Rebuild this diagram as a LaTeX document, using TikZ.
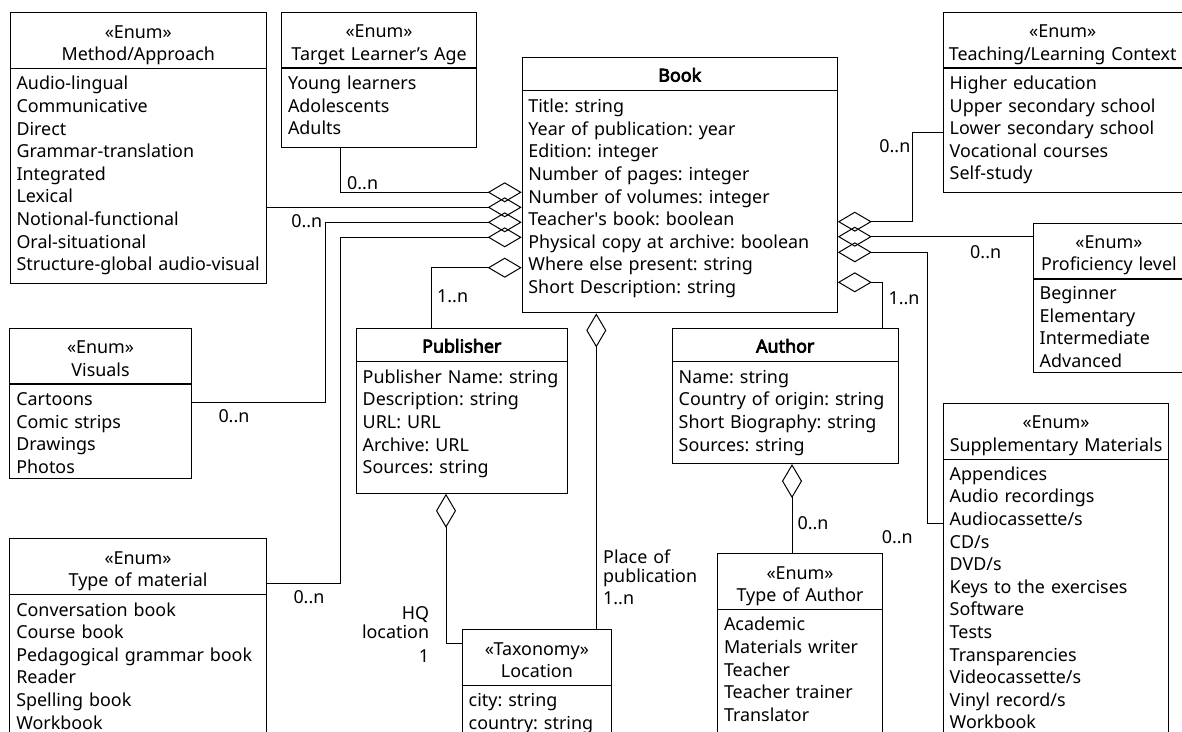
\documentclass[tikz,border=0pt]{standalone}
\usepackage{fontspec}
\setmainfont{Noto Sans}[AutoFakeBold=4]
\usetikzlibrary{arrows.meta, positioning, calc}
\newcommand{\umlfont}{\fontsize{17.9}{22.6}\selectfont}
\newcommand{\lblfont}{\fontsize{17.9}{19.4}\selectfont}
\frenchspacing
\tikzset{
  box/.style  ={draw, line width=1.1pt, anchor=north west, inner sep=0pt},
  enum/.style ={box, path picture={\draw[line width=1.1pt]
                ([yshift=-55.7pt]path picture bounding box.north west) --
                ([yshift=-55.7pt]path picture bounding box.north east);}},
  cls/.style  ={box, path picture={\draw[line width=1.1pt]
                ([yshift=-33pt]path picture bounding box.north west) --
                ([yshift=-33pt]path picture bounding box.north east);}},
  head/.style ={font=\umlfont, inner sep=0pt, anchor=base, text width=280pt, align=center},
  items/.style={font=\umlfont, inner sep=0pt, anchor=base west, text width=320pt, align=left},
  lbl/.style  ={font=\lblfont, inner sep=0pt},
  agg/.style  ={-{Diamond[open, length=34pt, width=20pt]}, line width=1pt}
}

\begin{document}
\begin{tikzpicture}[x=1pt, y=-1pt]
    \useasboundingbox (0,0) rectangle (1182,731);
    \fill[white] (0,0) rectangle (1182,731);
    \clip (0,0) rectangle (1182,731);

    % left column
    \node[enum, minimum width=256.5, minimum height=271] (meth) at (9.5,12) {};
    \node[head] at ([shift={(0,26)}]meth.north) {«Enum»\\Method/Approach};
    \node[items] at ([shift={(6.8,77.8)}]meth.north west) {Audio-lingual\\Communicative\\Direct\\Grammar-translation\\Integrated\\Lexical\\Notional-functional\\Oral-situational\\Structure-global audio-visual};

    \node[enum, minimum width=181.4, minimum height=150.6] (vis) at (9.3,327.7) {};
    \node[head] at ([shift={(0,26)}]vis.north) {«Enum»\\Visuals};
    \node[items] at ([shift={(6.8,77.8)}]vis.north west) {Cartoons\\Comic strips\\Drawings\\Photos};

    \node[enum, minimum width=256.4, minimum height=300] (tom) at (9.3,538.3) {};
    \node[head] at ([shift={(0,26)}]tom.north) {«Enum»\\Type of material};
    \node[items] at ([shift={(6.8,77.8)}]tom.north west) {Conversation book\\Course book\\Pedagogical grammar book\\Reader\\Spelling book\\Workbook};

    % middle
    \node[enum, minimum width=195, minimum height=135] (tla) at (281,11.7) {};
    \node[head] at ([shift={(0,26)}]tla.north) {«Enum»\\Target Learner’s Age};
    \node[items] at ([shift={(6.8,77.8)}]tla.north west) {Young learners\\Adolescents\\Adults};

    \node[cls, minimum width=315, minimum height=255] (book) at (521.7,57.3) {};
    \node[head] at ([shift={(0,24.3)}]book.north) {\textbf{Book}};
    \node[items] at ([shift={(6.5,55.3)}]book.north west) {Title: string\\Year of publication: year\\Edition: integer\\Number of pages: integer\\Number of volumes: integer\\Teacher\textquotesingle s book: boolean\\Physical copy at archive: boolean\\Where else present: string\\Short Description: string};

    \node[cls, minimum width=211, minimum height=165] (pub) at (355.7,327.7) {};
    \node[head] at ([shift={(0,24.8)}]pub.north) {\textbf{Publisher}};
    \node[items] at ([shift={(6.8,55.6)}]pub.north west) {Publisher Name: string\\Description: string\\URL: URL\\Archive: URL\\Sources: string};

    \node[enum, minimum width=149.3, minimum height=200] (loc) at (461.7,629) {};
    \node[head] at ([shift={(0,26)}]loc.north) {«Taxonomy»\\Location};
    \node[items] at ([shift={(6.8,77.8)}]loc.north west) {city: string\\country: string};

    \node[cls, minimum width=226, minimum height=135.3] (auth) at (671.7,327.7) {};
    \node[head] at ([shift={(0,24.8)}]auth.north) {\textbf{Author}};
    \node[items] at ([shift={(6.8,55.6)}]auth.north west) {Name: string\\Country of origin: string\\Short Biography: string\\Sources: string};

    \node[enum, minimum width=165, minimum height=250] (toa) at (717,553) {};
    \node[head] at ([shift={(0,26)}]toa.north) {«Enum»\\Type of Author};
    \node[items] at ([shift={(6.8,77.8)}]toa.north west) {Academic\\Materials writer\\Teacher\\Teacher trainer\\Translator};

    % right column
    \node[enum, minimum width=240, minimum height=180] (tlc) at (942.7,11.7) {};
    \node[head] at ([shift={(0,26)}]tlc.north west -| 1062.7,0) {«Enum»\\Teaching/Learning Context};
    \node[items] at ([shift={(6.8,77.8)}]tlc.north west) {Higher education\\Upper secondary school\\Lower secondary school\\Vocational courses\\Self-study};

    \node[enum, minimum width=151.3, minimum height=149] (prof) at (1032.7,222.7) {};
    \node[head] at ([shift={(0,25.6)}]prof.north) {«Enum»\\Proficiency level};
    \node[items] at ([shift={(6.8,76.8)}]prof.north west) {Beginner\\Elementary\\Intermediate\\Advanced};

    \node[enum, minimum width=225.6, minimum height=400] (sup) at (942.7,403) {};
    \node[head] at ([shift={(0,25.6)}]sup.north) {«Enum»\\Supplementary Materials};
    \node[items] at ([shift={(6.8,77.3)}]sup.north west) {Appendices\\Audio recordings\\Audiocassette/s\\CD/s\\DVD/s\\Keys to the exercises\\Software\\Tests\\Transparencies\\Videocassette/s\\Vinyl record/s\\Workbook};

    % aggregations into Book
    \draw[agg] (tla.south -| 340,0) |- (book.west |- 0,192.3);
    \draw[agg] (meth.east |- 0,207.3) -- (book.west |- 0,207.3);
    \draw[agg] (vis.east |- 0,402.7) -| (325.7,222.3) -- (book.west |- 0,222.3);
    \draw[agg] (tom.east |- 0,583.3) -| (340.7,237.3) -- (book.west |- 0,237.3);
    \draw[agg] (pub.north -| 431.7,0) |- (book.west |- 0,267.7);
    \draw[agg] (loc.north -| 596.3,0) -- (book.south -| 596.3,0);
    \draw[agg] (tlc.west |- 0,132.3) -| (912.7,221.7) -- (book.east |- 0,221.7);
    \draw[agg] (prof.west |- 0,236.7) -- (book.east |- 0,236.7);
    \draw[agg] (sup.west |- 0,523) -| (927.3,252.3) -- (book.east |- 0,252.3);
    \draw[agg] (auth.north -| 882.3,0) |- (book.east |- 0,282.3);
    % other aggregations
    \draw[agg] (loc.west |- 0,643.3) -| (pub.south -| 446,0);
    \draw[agg] (toa.north -| 792,0) -- (auth.south -| 792,0);

    % multiplicities
    \node[lbl, anchor=base west] (mtla) at (347,189.3) {0..n};
    \node[lbl, anchor=base east] (mmeth) at (322.5,227.3) {0..n};
    \node[lbl, anchor=base west] (mvis) at (218.3,422.3) {0..n};
    \node[lbl, anchor=base west] (mtom) at (293.3,603.6) {0..n};
    \node[lbl, anchor=base west] (mpub) at (437,302.9) {1..n};
    \node[lbl, anchor=base east, text width=90pt, align=right] (mhq) at (429.3,619.5) {HQ\\location};
    \node[lbl, anchor=base east] (mhq1) at (429.3,662.9) {1};
    \node[lbl, anchor=base west, text width=110pt, align=left] (mplace) at (603,563.5) {Place of\\publication};
    \node[lbl, anchor=base west] (mplace1) at (603,604.5) {1..n};
    \node[lbl, anchor=base east] (mtlc) at (910.5,152.9) {0..n};
    \node[lbl, anchor=base west] (mprof) at (970,258.5) {0..n};
    \node[lbl, anchor=base west] (mauth) at (888.3,304.5) {1..n};
    \node[lbl, anchor=base west] (mtoa) at (797.3,529.5) {0..n};
    \node[lbl, anchor=base west] (msup) at (881.7,543.5) {0..n};
  \end{tikzpicture}
\end{document}
